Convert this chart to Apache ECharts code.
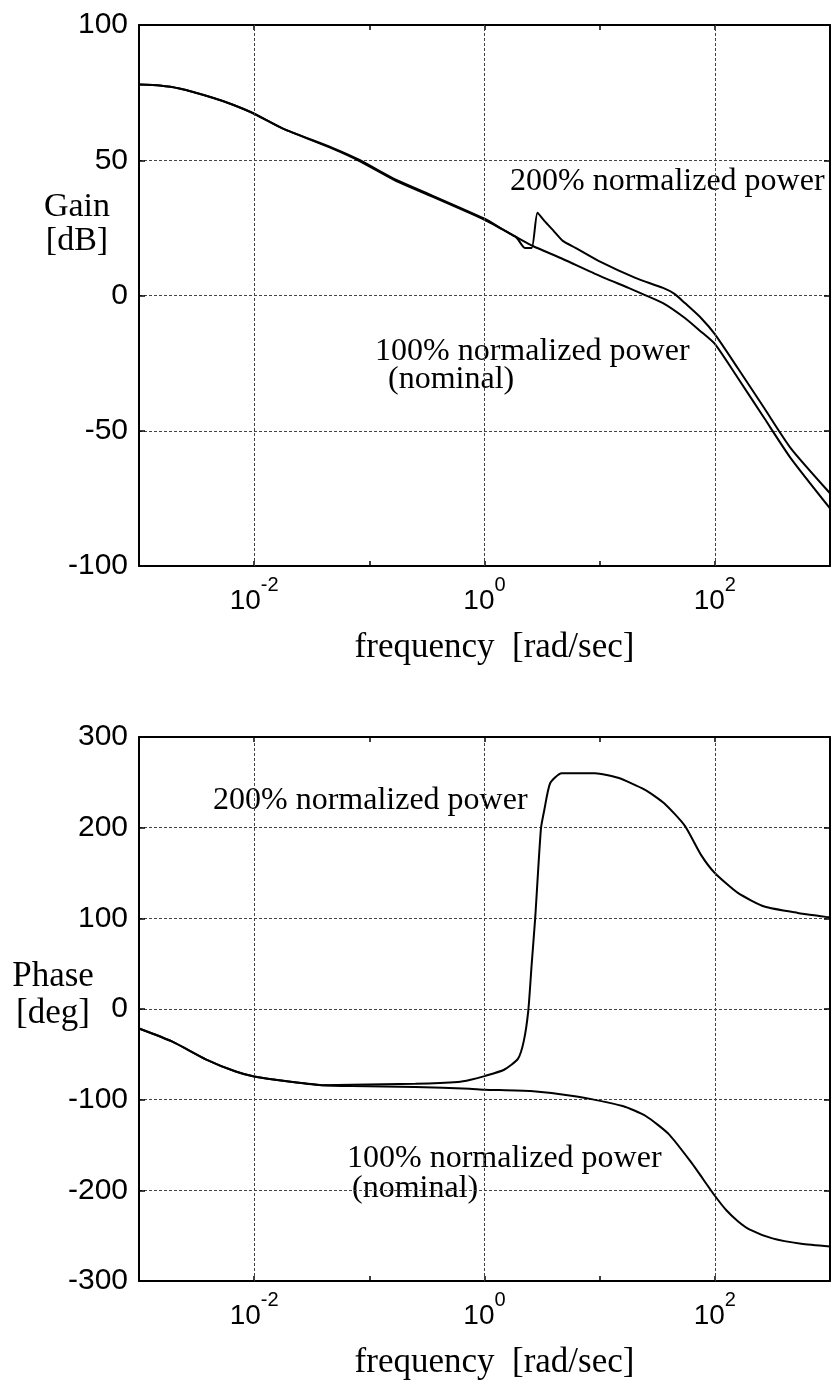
<!DOCTYPE html>
<html><head><meta charset="utf-8">
<script src="https://cdn.jsdelivr.net/npm/echarts@6/dist/echarts.min.js"></script>
<style>html,body{margin:0;padding:0;background:#fff}#c{width:833px;height:1384px}</style>
</head><body><div id="c"></div>
<script>
// frequency axis: exponents of 10 (rad/sec)
const freqExpRange = [-3, 3];
const gridExponents = [-2, 0, 2];
const gainRange = [-100, 100];
const phaseRange = [-300, 300];

// Gain [dB]
const nominalGainExp = [-3,-2.82,-2.65,-2.36,-2.19,-2,-1.75,-1.32,-1.09,-0.77,-0.57,0,0.26,0.42,0.68,0.96,1.25,1.37,1.55,1.74,1.87,2.0,2.2,2.43,2.66,3.0];
const nominalGain    = [78,77.6,76.5,73.1,70.6,67.2,61.7,54.3,49.8,42.4,38.7,28,22,18.3,13.5,8,2.8,0.6,-2.8,-8.3,-13,-17.9,-30.5,-45.4,-60.2,-78.7];
const highGainExp = [-3,-2.82,-2.65,-2.36,-2.19,-2,-1.75,-1.32,-1.09,-0.77,-0.57,0,0.16,0.28,0.35,0.41,0.46,0.52,0.6,0.68,0.79,0.99,1.31,1.55,1.65,1.74,1.88,2.0,2.2,2.43,2.66,3.0];
const highGain    = [78,77.6,76.5,73.1,70.6,67.2,61.7,54.6,50.2,42.8,39.1,28.4,24.4,21.3,17.6,17.6,30.6,27.6,23.9,20.2,17.6,12.8,6.5,2.8,0.6,-2.8,-8.3,-14.3,-26.9,-41.7,-56.5,-73.1];

// Phase [deg]
const nominalPhaseExp = [-3,-2.71,-2.42,-2.16,-2,-1.7,-1.41,-1.15,-0.6,-0.13,0,0.4,0.8,1.2,1.4,1.6,1.8,1.9,2.0,2.1,2.2,2.3,2.5,2.75,3.0];
const nominalPhase    = [-21.5,-36,-55.5,-69,-74.5,-80,-84,-85,-86,-88,-89,-90.5,-96.5,-107,-118,-138,-170,-188,-206,-222,-234,-243,-253,-259,-262];
const highPhaseExp = [-3,-2.71,-2.42,-2.16,-2,-1.7,-1.41,-1.15,-0.6,-0.23,-0.12,0,0.17,0.29,0.34,0.38,0.41,0.44,0.49,0.52,0.57,0.67,0.96,1.16,1.39,1.56,1.74,1.88,2.0,2.2,2.43,2.72,3.0];
const highPhase    = [-21.5,-36,-55.5,-69,-74.5,-80,-84,-83.5,-82.5,-80.5,-78,-74,-67,-55,-36,-2,50,100,199,220,249,260,260,255,242,227,202,170,150,128,113,106,101];

const zip = (xs, ys) => xs.map((x, i) => [x, ys[i]]);

const SANS = '"Liberation Sans", Arial, sans-serif';
const SERIF = '"Liberation Serif", "Times New Roman", serif';
const gridLine = { color: '#444', width: 1, type: [3, 2] };

function xAxes(gridIndex) {
  const base = {
    type: 'value', gridIndex, min: freqExpRange[0], max: freqExpRange[1], interval: 1,
    axisLine: { show: true, onZero: false, lineStyle: { color: '#000', width: 2 } },
    axisTick: { show: true, inside: true, length: 5, lineStyle: { color: '#000', width: 1.5 } },
    splitLine: { show: false }
  };
  return [
    Object.assign({}, base, {
      position: 'bottom',
      axisLabel: {
        margin: 9, color: '#000',
        formatter: v => (Math.round(v) % 2 === 0) ? '{b|10}{s|' + Math.round(v) + '}' : '',
        rich: {
          b: { fontFamily: SANS, fontSize: 28, color: '#000' },
          s: { fontFamily: SANS, fontSize: 20, color: '#000', padding: [0, 0, 32, 0] }
        }
      },
      name: 'frequency  [rad/sec]', nameLocation: 'middle', nameGap: 64,
      nameTextStyle: { fontFamily: SERIF, fontSize: 35, color: '#000', padding: [0, 0, 0, 20] }
    }),
    Object.assign({}, base, { position: 'top', axisLabel: { show: false } })
  ];
}

function yAxes(gridIndex, range, interval) {
  const base = {
    type: 'value', gridIndex, min: range[0], max: range[1], interval,
    axisLine: { show: true, onZero: false, lineStyle: { color: '#000', width: 2 } },
    axisTick: { show: true, inside: true, length: 6, lineStyle: { color: '#000', width: 1.5 } }
  };
  return [
    Object.assign({}, base, {
      position: 'left',
      axisLabel: { margin: 11, color: '#000', fontFamily: SANS, fontSize: 30 },
      splitLine: { show: true, lineStyle: gridLine }
    }),
    Object.assign({}, base, { position: 'right', axisLabel: { show: false }, splitLine: { show: false } })
  ];
}

const lineSeries = (name, xi, yi, data, withGrid) => {
  const s = {
    name, type: 'line', xAxisIndex: xi, yAxisIndex: yi, data,
    showSymbol: false, smooth: 0.2,
    lineStyle: { color: '#000', width: 2 }, silent: true, z: 3
  };
  if (withGrid) {
    s.markLine = {
      silent: true, symbol: ['none', 'none'], label: { show: false },
      lineStyle: gridLine, animation: false,
      data: gridExponents.map(e => ({ xAxis: e }))
    };
  }
  return s;
};

const txt = (text, x, y, size, extra) => ({
  type: 'text', x, y, silent: true,
  style: Object.assign({ text, fill: '#000', font: size + 'px ' + SERIF, align: 'left', verticalAlign: 'middle' }, extra || {})
});

const chart = echarts.init(document.getElementById('c'), null, { renderer: 'canvas' });
chart.setOption({
  animation: false,
  backgroundColor: '#fff',
  grid: [
    { left: 139, top: 25, width: 693, height: 541 },
    { left: 139, top: 737, width: 693, height: 544 }
  ],
  xAxis: [...xAxes(0), ...xAxes(1)],
  yAxis: [...yAxes(0, gainRange, 50), ...yAxes(1, phaseRange, 100)],
  series: [
    lineSeries('100% normalized power (nominal) gain', 0, 0, zip(nominalGainExp, nominalGain), true),
    lineSeries('200% normalized power gain', 0, 0, zip(highGainExp, highGain), false),
    lineSeries('100% normalized power (nominal) phase', 2, 2, zip(nominalPhaseExp, nominalPhase), true),
    lineSeries('200% normalized power phase', 2, 2, zip(highPhaseExp, highPhase), false)
  ],
  graphic: [
    txt('Gain\n[dB]', 77, 224, 34, { align: 'center', lineHeight: 34 }),
    txt('Phase\n[deg]', 53, 995, 35, { align: 'center', lineHeight: 37 }),
    txt('200% normalized power', 510, 182, 32),
    txt('100% normalized power', 375, 352, 32),
    txt('(nominal)', 388, 380, 32),
    txt('200% normalized power', 213, 801, 32),
    txt('100% normalized power', 347, 1159, 32),
    txt('(nominal)', 352, 1189, 32)
  ]
});
</script></body></html>
